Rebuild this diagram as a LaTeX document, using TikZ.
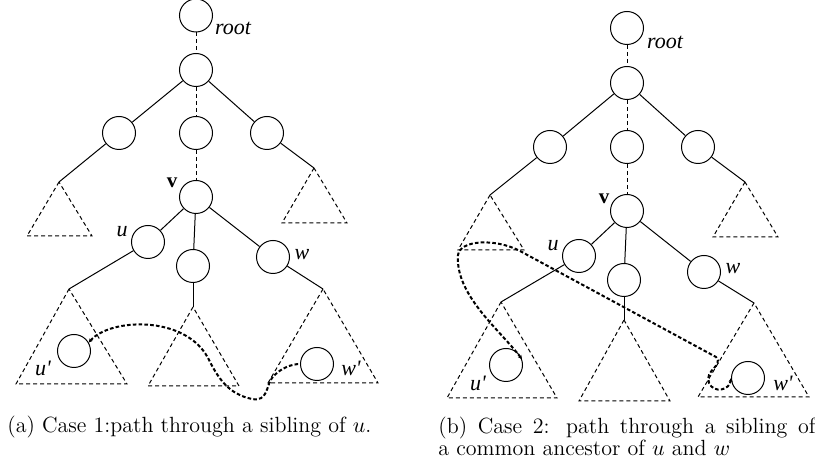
\documentclass[tikz,border=0pt]{standalone}
\usepackage{fontspec}
\newfontfamily\tfont{Liberation Serif}
\usetikzlibrary{arrows.meta}
\tikzset{
  tn/.style={circle, draw, line width=0.5pt, minimum size=16.5pt, inner sep=0pt},
  lbl/.style={font=\tfont\itshape\fontsize{11}{13}\selectfont, inner sep=0pt},
  vlbl/.style={font=\tfont\bfseries\fontsize{10.5}{12}\selectfont, inner sep=0pt},
  captxt/.style={font=\fontsize{11}{10.7}\selectfont, inner sep=0pt},
  edge/.style={line width=0.5pt},
  dedge/.style={line width=0.5pt, dash pattern=on 2pt off 1.5pt},
  subtree/.style={line width=0.5pt, dash pattern=on 2pt off 1.5pt},
  walk/.style={line width=1pt, dash pattern=on 1.8pt off 1.1pt},
  wtip/.tip={Stealth[length=2pt,width=2pt]}
}
\begin{document}
\begin{tikzpicture}[x=0.5pt,y=-0.5pt]
\useasboundingbox (0,0) rectangle (815,469);
% ---------------- panel (a) ----------------
\node[tn] (ra) at (196,15.5) {};
\node[lbl] at (233,28) {root};
\node[tn] (aa) at (196,70) {};
\node[tn] (la) at (119,133) {};
\node[tn] (ma) at (196,133) {};
\node[tn] (ka) at (267,133) {};
\node[tn] (va) at (196,197) {};
\node[vlbl] at (172,183) {v};
\node[tn] (ua) at (148,242) {};
\node[lbl] at (122,232) {u};
\node[tn] (ca) at (193,266) {};
\node[tn] (wa) at (273,257) {};
\node[lbl] at (302,255) {w};
\node[tn] (u2a) at (74,351) {};
\node[lbl] at (43,368) {u'};
\node[tn] (w2a) at (317,364) {};
\node[lbl] at (351,368) {w'};
\coordinate (t1a) at (59,182);
\coordinate (t2a) at (314,168);
\coordinate (t3a) at (69,289);
\coordinate (t4a) at (193,307);
\coordinate (t5a) at (323,289);
\draw[subtree] (t1a) -- (27,236) -- (92,236) -- cycle;
\draw[subtree] (t2a) -- (282,223) -- (347,223) -- cycle;
\draw[subtree] (t3a) -- (16,384) -- (127,384) -- cycle;
\draw[subtree] (t4a) -- (148,386) -- (239,386) -- cycle;
\draw[subtree] (t5a) -- (268,383) -- (378,383) -- cycle;
\draw[dedge] (ra) -- (aa);
\draw[dedge] (aa) -- (ma);
\draw[dedge] (ma) -- (va);
\draw[edge] (aa) -- (la);
\draw[edge] (aa) -- (ka);
\draw[edge] (la) -- (t1a);
\draw[edge] (ka) -- (t2a);
\draw[edge] (va) -- (ua);
\draw[edge] (va) -- (ca);
\draw[edge] (va) -- (wa);
\draw[edge] (ua) -- (t3a);
\draw[edge] (ca) -- (t4a);
\draw[edge] (wa) -- (t5a);
\draw[walk, wtip-] (u2a.30) .. controls (110,318) and (185,315) .. (208,358)
  .. controls (218,378) and (228,394) .. (252,399)
  .. controls (268,402) and (266,386) .. (272,378)
  .. controls (280,368) and (292,364) .. (w2a.west);
\node[captxt, anchor=base west] at (7,433) {(a) Case 1:path through a sibling of $u$.};
% ---------------- panel (b) ----------------
\node[tn] (rb) at (627,28) {};
\node[lbl] at (665,42) {root};
\node[tn] (ab) at (627,83) {};
\node[tn] (lb) at (550,147) {};
\node[tn] (mb) at (627,147) {};
\node[tn] (kb) at (698,147) {};
\node[tn] (vb) at (627,211) {};
\node[vlbl] at (604,199) {v};
\node[tn] (ub) at (579,256) {};
\node[lbl] at (553,246) {u};
\node[tn] (cb) at (624,280) {};
\node[tn] (wb) at (704,272) {};
\node[lbl] at (733,269) {w};
\node[tn] (u2b) at (506,365) {};
\node[lbl] at (478,383) {u'};
\node[tn] (w2b) at (748,378) {};
\node[lbl] at (783,383) {w'};
\coordinate (t1b) at (490,195);
\coordinate (t2b) at (745,182);
\coordinate (t3b) at (501,302);
\coordinate (t4b) at (624,320);
\coordinate (t5b) at (754,303);
\draw[subtree] (t1b) -- (458,250) -- (524,250) -- cycle;
\draw[subtree] (t2b) -- (713,237) -- (778,237) -- cycle;
\draw[subtree] (t3b) -- (447,398) -- (557,398) -- cycle;
\draw[subtree] (t4b) -- (579,401) -- (670,401) -- cycle;
\draw[subtree] (t5b) -- (698,397) -- (809,397) -- cycle;
\draw[dedge] (rb) -- (ab);
\draw[dedge] (ab) -- (mb);
\draw[dedge] (mb) -- (vb);
\draw[edge] (ab) -- (lb);
\draw[edge] (ab) -- (kb);
\draw[edge] (lb) -- (t1b);
\draw[edge] (kb) -- (t2b);
\draw[edge] (vb) -- (ub);
\draw[edge] (vb) -- (cb);
\draw[edge] (vb) -- (wb);
\draw[edge] (ub) -- (t3b);
\draw[edge] (cb) -- (t4b);
\draw[edge] (wb) -- (t5b);
\draw[walk, wtip-wtip] (u2b.20) .. controls (500,330) and (455,295) .. (458,255)
  .. controls (460,240) and (495,238) .. (520,251)
  -- (716,357)
  .. controls (724,366) and (704,370) .. (709,383)
  .. controls (714,394) and (730,390) .. (w2b.west);
\node[captxt, anchor=north west, align=left] at (438,417)
  {\makebox[188.5pt][s]{(b) Case 2: path through a sibling of}\\
   a common ancestor of $u$ and $w$};
\end{tikzpicture}
\end{document}
